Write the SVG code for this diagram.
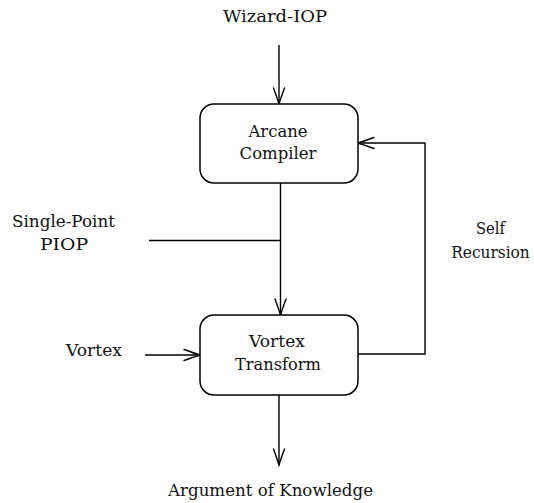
<svg xmlns="http://www.w3.org/2000/svg" width="534" height="503" viewBox="0 0 534 503">
  <style>
    .node rect { fill: #ffffff; stroke: #000000; stroke-width: 1.5; }
    .t { font-family: 'DejaVu Serif', 'Liberation Serif', 'Noto Serif', serif; font-size: 17.5px; fill: #111111; text-anchor: middle; }
    .conn line, .conn polyline { fill: none; stroke: #000000; stroke-width: 1.4; }
  </style>
  <defs>
    <marker id="arr" markerUnits="userSpaceOnUse" markerWidth="20" markerHeight="14" viewBox="-18 -7 20 14" refX="0" refY="0" orient="auto" overflow="visible">
      <path d="M -16 -5.5 Q -5 -1.5 0 0 Q -5 1.5 -16 5.5" fill="none" stroke="#000000" stroke-width="1.4" stroke-linecap="round"/>
    </marker>
  </defs>
  <rect x="0" y="0" width="534" height="503" fill="#ffffff"/>

  <g class="conn" id="connectors">
    <line x1="279" y1="45" x2="279" y2="104" marker-end="url(#arr)"/>
    <line x1="149" y1="240.5" x2="280.5" y2="240.5"/>
    <line x1="280.5" y1="183" x2="280.5" y2="315" marker-end="url(#arr)"/>
    <line x1="145" y1="355" x2="200" y2="355" marker-end="url(#arr)"/>
    <polyline points="358,354 425,354 425,143 358,143" marker-end="url(#arr)"/>
    <line x1="279" y1="395" x2="279" y2="465" marker-end="url(#arr)"/>
  </g>

  <g class="node" id="arcane-compiler">
    <rect x="200" y="104" width="158" height="79" rx="14" ry="14"/>
    <text class="t" x="278" y="137" textLength="59" lengthAdjust="spacingAndGlyphs">Arcane</text>
    <text class="t" x="278" y="159" textLength="77" lengthAdjust="spacingAndGlyphs">Compiler</text>
  </g>

  <g class="node" id="vortex-transform">
    <rect x="200" y="315" width="158" height="80" rx="14" ry="14"/>
    <text class="t" x="277" y="347" textLength="56" lengthAdjust="spacingAndGlyphs">Vortex</text>
    <text class="t" x="278" y="370" textLength="86" lengthAdjust="spacingAndGlyphs">Transform</text>
  </g>

  <g id="wizard-iop">
    <text class="t" x="275" y="22" textLength="104" lengthAdjust="spacingAndGlyphs">Wizard-IOP</text>
  </g>
  <g id="single-point-piop">
    <text class="t" x="63.5" y="227" textLength="103" lengthAdjust="spacingAndGlyphs">Single-Point</text>
    <text class="t" x="64" y="250" textLength="48" lengthAdjust="spacingAndGlyphs">PIOP</text>
  </g>
  <g id="vortex-input">
    <text class="t" x="94" y="356" textLength="56" lengthAdjust="spacingAndGlyphs">Vortex</text>
  </g>
  <g id="self-recursion">
    <text class="t" x="490.5" y="234" textLength="29" lengthAdjust="spacingAndGlyphs">Self</text>
    <text class="t" transform="translate(490.5,258) scale(0.88,1)" x="0" y="0">Recursion</text>
  </g>
  <g id="argument-of-knowledge">
    <text class="t" x="270.5" y="496" textLength="205" lengthAdjust="spacingAndGlyphs">Argument of Knowledge</text>
  </g>
</svg>
